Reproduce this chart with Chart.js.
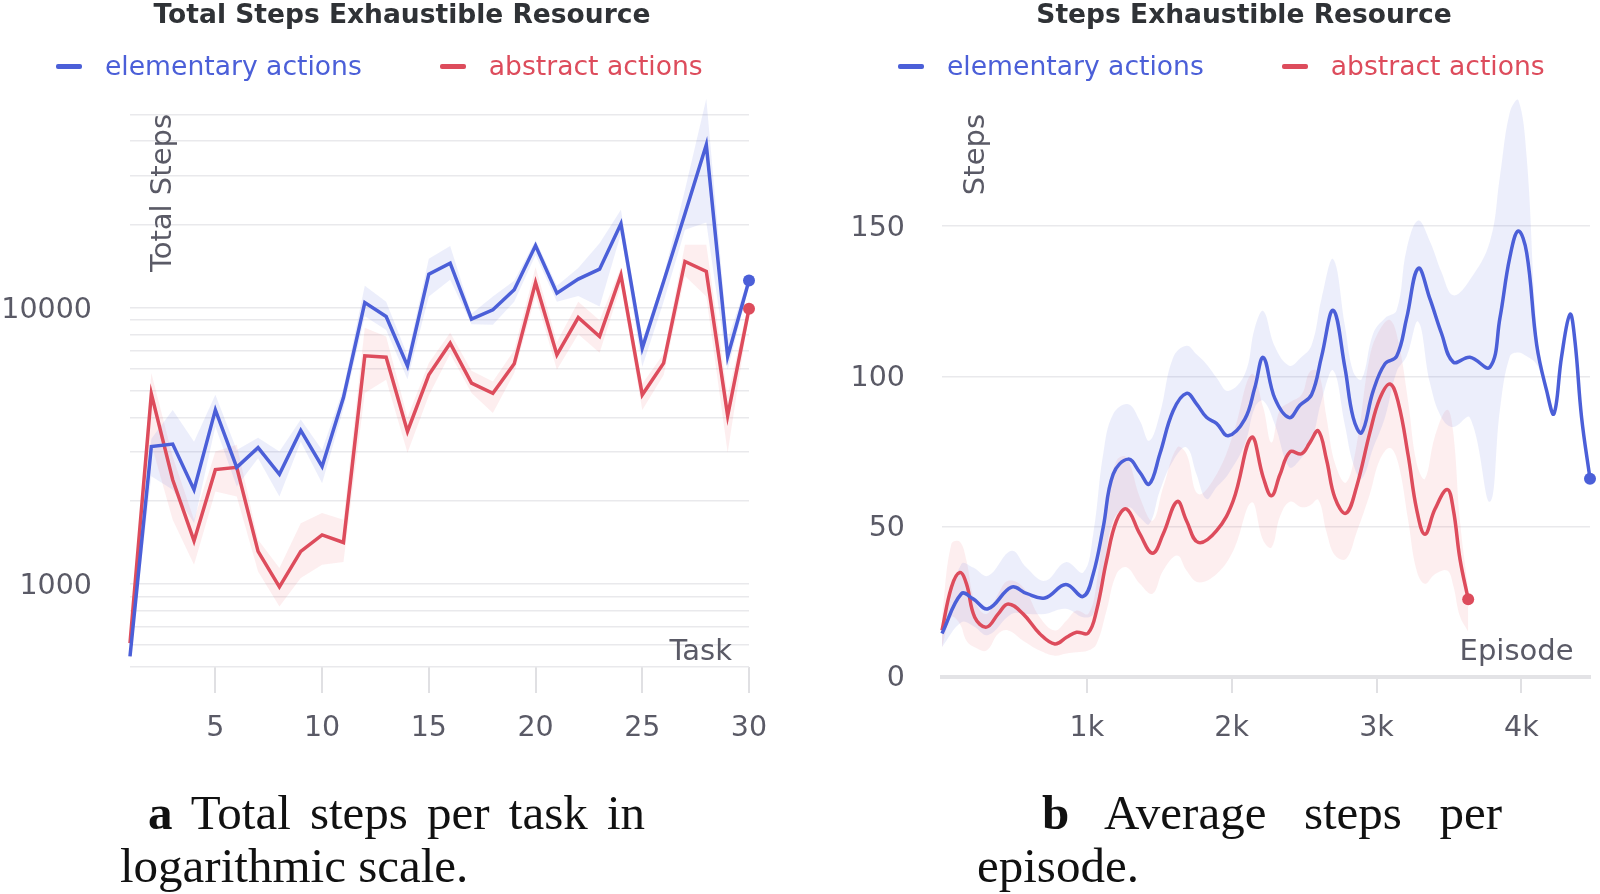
<!DOCTYPE html>
<html>
<head>
<meta charset="utf-8">
<script src="https://cdn.jsdelivr.net/npm/chart.js@4.4.1/dist/chart.umd.min.js"></script>
<style>
  body { margin: 0; background: #fff; }
  #page { position: relative; width: 1600px; height: 894px; overflow: hidden; background: #fff; }
  canvas { position: absolute; top: 0; }
  .title { position: absolute; top: -1px; width: 800px; text-align: center; font-family: 'DejaVu Sans'; font-weight: bold; font-size: 26.5px; line-height: 30px; color: #2f3236; white-space: nowrap; }
  .legend { position: absolute; top: 51px; display: flex; align-items: center; font-family: 'DejaVu Sans'; font-size: 26.6px; line-height: 30px; white-space: nowrap; }
  .legend .item { display: flex; align-items: center; margin-right: 78px; }
  .legend .dash { width: 26px; height: 5px; border-radius: 2px; margin-right: 23px; }
  .caption { position: absolute; font-family: 'Liberation Serif'; font-size: 49px; line-height: 53px; color: #111; white-space: nowrap; }
  .just { text-align: justify; text-align-last: justify; white-space: normal; }
</style>
</head>
<body>
<div id="page">
  <canvas id="totalChart" width="800" height="760" style="left:0"></canvas>
  <canvas id="stepsChart" width="800" height="760" style="left:800px"></canvas>

  <div class="title" style="left:2px">Total Steps Exhaustible Resource</div>
  <div class="title" style="left:844px">Steps Exhaustible Resource</div>

  <div class="caption just" style="left:148px; top:786px; width:497px"><b>a</b> Total steps per task in</div>
  <div class="caption" style="left:120px; top:839px">logarithmic scale.</div>
  <div class="caption just" style="left:1042px; top:786px; width:460px"><b>b</b> Average steps per</div>
  <div class="caption" style="left:977px; top:839px">episode.</div>
</div>

<script>
// ---- left chart: total steps per task (log scale) ----
const tasks = [1, 2, 3, 4, 5, 6, 7, 8, 9, 10, 11, 12, 13, 14, 15, 16, 17, 18, 19, 20, 21, 22, 23, 24, 25, 26, 27, 28, 29, 30];
const elemTotal = [546, 3140, 3205, 2190, 4260, 2640, 3110, 2490, 3590, 2660, 4720, 10420, 9280, 6150, 13210, 14480, 9080, 9810, 11590, 16760, 11270, 12670, 13770, 20090, 7130, 12420, 21840, 38810, 6650, 12520];
const elemTotalHi = [565, 3350, 4260, 3270, 4830, 3050, 3380, 3010, 3930, 3050, 5100, 12000, 10500, 6700, 15000, 16700, 9500, 10960, 12500, 17500, 12000, 13900, 17100, 22600, 7600, 13000, 26700, 57000, 7640, 13000];
const elemTotalLo = [530, 2450, 2190, 1660, 3710, 2250, 2850, 2070, 3270, 2310, 4300, 9300, 8300, 5500, 10960, 12600, 8700, 8660, 10500, 15500, 10500, 11000, 10080, 18500, 6100, 10500, 19100, 20300, 5950, 12000];
const absTotal = [610, 4870, 2380, 1430, 2590, 2640, 1310, 975, 1310, 1504, 1411, 6690, 6610, 3560, 5705, 7430, 5325, 4895, 6254, 12310, 6745, 9200, 7850, 13130, 4830, 6290, 14680, 13500, 4056, 9890];
const absTotalHi = [640, 5800, 2890, 1705, 3010, 3185, 1443, 1140, 1658, 1803, 1705, 8440, 7850, 4000, 6300, 8100, 5900, 5400, 7000, 14000, 7500, 10500, 9000, 14000, 5300, 6800, 16870, 16870, 4800, 10500];
const absTotalLo = [590, 3200, 1705, 1172, 2159, 2070, 1109, 828, 1049, 1172, 1200, 4910, 5480, 2980, 4800, 6800, 4900, 4150, 5800, 11000, 5950, 8000, 6860, 12000, 4260, 5700, 13000, 10960, 2980, 9500];
const totalTicks = [500, 600, 700, 800, 900, 1000, 2000, 3000, 4000, 5000, 6000, 7000, 8000, 9000, 10000, 20000, 30000, 40000, 50000];
const totalLabels = [1000, 10000];
const taskTicks = [5, 10, 15, 20, 25, 30];

// ---- right chart: average steps per episode ----
const elemEpisodes = [0, 134, 215, 318, 480, 583, 710, 855, 975, 1044, 1113, 1182, 1286, 1366, 1431, 1504, 1596, 1688, 1757, 1826, 1895, 1976, 2091, 2160, 2218, 2298, 2397, 2471, 2552, 2621, 2701, 2782, 2839, 2897, 2977, 3058, 3139, 3208, 3288, 3369, 3449, 3530, 3645, 3783, 3852, 3921, 3979, 4037, 4106, 4175, 4225, 4278, 4336, 4370, 4416, 4474];
const elemSteps = [14.5, 27.7, 26, 22.7, 29.9, 27.8, 26.3, 30.8, 26.8, 34.3, 49.8, 67.5, 72.5, 68.1, 64.2, 74.2, 88.6, 94.4, 90.9, 86.4, 84.4, 80.3, 85.8, 96.3, 106.3, 92.7, 86.3, 90.4, 94.0, 106.7, 122.0, 102.9, 86.3, 81.3, 95.2, 104.2, 106.7, 119.4, 136.0, 125.8, 114.3, 104.8, 106.4, 103.1, 119.4, 139.8, 148.4, 141.1, 110.5, 95.2, 87.6, 106.7, 120.7, 111.8, 86.3, 66.0];
const elemStepsHi = [18, 37.6, 36.4, 33.7, 42, 36.4, 32, 38.2, 34.8, 47.6, 74.2, 87.5, 90.8, 85.3, 78.6, 87.5, 106.3, 110.2, 107.4, 104.1, 99.7, 95.2, 100.8, 116.3, 121.8, 110, 103.6, 106, 110.5, 126, 139, 116.9, 101.6, 99.1, 114.3, 119.4, 122, 142.3, 151.9, 144.9, 134.7, 127, 132.2, 144.9, 166.5, 188, 192, 172.9, 116, 95.2, 87.6, 106.7, 120.7, 111.8, 86.3, 66];
const elemStepsLo = [10, 18.2, 17, 14, 21, 21, 21, 22.7, 19.9, 21, 34.3, 52, 56.5, 53.1, 50.9, 62, 72, 76.4, 67.5, 59.2, 63.1, 67.5, 77.5, 89.7, 91.9, 84, 69.8, 72.3, 78.7, 92, 102, 83.8, 71, 66, 76.2, 86.3, 101.6, 106.7, 118.2, 97.8, 86.3, 83.2, 86.3, 58.3, 88.9, 106.7, 108, 106.7, 104, 95.2, 87.6, 106.7, 120.7, 111.8, 86.3, 66];
const absEpisodes = [0, 65, 123, 169, 226, 307, 388, 457, 560, 675, 779, 860, 929, 1009, 1067, 1136, 1205, 1274, 1366, 1454, 1527, 1624, 1688, 1769, 1896, 2011, 2137, 2218, 2275, 2333, 2402, 2483, 2540, 2598, 2655, 2713, 2789, 2863, 2954, 3023, 3093, 3150, 3219, 3277, 3334, 3403, 3488, 3530, 3576, 3633];
const absSteps = [15.5, 29.9, 34.8, 31, 19.9, 16.6, 21, 24.3, 21, 14.4, 11, 13.2, 14.9, 14.6, 22.1, 38.7, 52, 55.9, 47.6, 41.2, 47.6, 58.4, 52, 44.8, 48.7, 58.7, 79.7, 66.4, 60.3, 67.3, 74.9, 74.3, 78, 81.9, 72.3, 59.6, 54.5, 63.4, 81.3, 92.7, 97.5, 91.4, 73.6, 55.8, 47.5, 55.8, 62.4, 55.8, 39.3, 25.9];
const absStepsHi = [20, 44.3, 45, 38.7, 25.4, 21, 27.7, 32, 29.9, 19.9, 15.5, 18.8, 22.1, 21, 31, 58.7, 72, 73.1, 59.8, 52, 63.1, 76.4, 74.2, 60.9, 67.5, 80.9, 100.8, 89.7, 78, 88.9, 91.4, 94, 101.6, 101.6, 86.3, 71.1, 64.7, 77.4, 106.7, 115.6, 118.8, 111.8, 91.4, 71.1, 66, 80, 88.9, 81.3, 52, 29.1];
const absStepsLo = [10, 19.9, 17.7, 12.1, 9.9, 8.8, 14.4, 15.5, 12.1, 8.8, 7.1, 7.8, 8.2, 8.8, 11, 22.1, 34.3, 36.5, 31, 27.7, 35.4, 40.4, 35.4, 31.5, 34.3, 42, 58.1, 45.4, 43.1, 53.3, 58.3, 56.5, 57.1, 59, 48.2, 40.5, 39.3, 48.2, 60.9, 72.3, 76.2, 71.1, 52, 35.4, 31, 34.2, 35.4, 30.4, 20.2, 15.1];
const stepTicks = [0, 50, 100, 150];
const episodeTicks = [1000, 2000, 3000, 4000];

const BLUE = '#4b5fd8';
const RED = '#dd4c5c';
const BLUE_BAND = 'rgba(98, 112, 226, 0.12)';
const RED_BAND = 'rgba(236, 96, 106, 0.11)';
const TEXT = '#5a5a66';
const GRID = '#e9e9ec';
const FONT = 'DejaVu Sans';

Chart.defaults.font.family = FONT;
Chart.defaults.animation = false;

const pts = (xs, ys) => xs.map((x, i) => ({ x: x, y: ys[i] }));

function series(label, color, band, xs, mid, hi, lo, tension) {
  const last = xs.length - 1;
  return [
    {
      label: label, data: pts(xs, mid), borderColor: color, backgroundColor: color,
      borderWidth: 3.5, tension: tension, fill: false, order: 0, clip: false,
      pointRadius: (c) => (c.dataIndex === last ? 6 : 0), pointBorderWidth: 0, pointHoverRadius: 0,
    },
    { label: label + ' hi', band: true, data: pts(xs, hi), borderWidth: 0, pointRadius: 0, backgroundColor: band, fill: '+1', tension: tension, order: 1 },
    { label: label + ' lo', band: true, data: pts(xs, lo), borderWidth: 0, pointRadius: 0, fill: false, tension: tension, order: 1 },
  ];
}

// axis titles sit inside the plot, plotly style
const axisNames = {
  id: 'axisNames',
  beforeDatasetsDraw(chart, args, o) {
    const { ctx, chartArea: a } = chart;
    ctx.save();
    ctx.fillStyle = TEXT;
    ctx.font = '29px "DejaVu Sans"';
    ctx.textBaseline = 'middle';
    ctx.textAlign = 'right';
    ctx.fillText(o.x, a.right - o.xInset, a.bottom - o.xRaise);
    ctx.translate(a.left + o.yInset, a.top + o.yDrop);
    ctx.rotate(-Math.PI / 2);
    ctx.fillText(o.y, 0, 0);
    ctx.restore();
  },
};

function htmlLegend(chart, left) {
  const box = document.createElement('div');
  box.className = 'legend';
  box.style.left = left + 'px';
  chart.data.datasets.filter((d) => !d.band).forEach((d) => {
    const item = document.createElement('div');
    item.className = 'item';
    const dash = document.createElement('span');
    dash.className = 'dash';
    dash.style.background = d.borderColor;
    const txt = document.createElement('span');
    txt.textContent = d.label;
    txt.style.color = d.borderColor;
    item.appendChild(dash);
    item.appendChild(txt);
    box.appendChild(item);
  });
  document.getElementById('page').appendChild(box);
}

const tickFont = { size: 28.5, family: FONT };

const totalChart = new Chart(document.getElementById('totalChart'), {
  type: 'line',
  data: {
    datasets: [
      ...series('elementary actions', BLUE, BLUE_BAND, tasks, elemTotal, elemTotalHi, elemTotalLo, 0),
      ...series('abstract actions', RED, RED_BAND, tasks, absTotal, absTotalHi, absTotalLo, 0),
    ],
  },
  options: {
    responsive: false,
    layout: { padding: { left: 0, right: 51, top: 97, bottom: 13 } },
    plugins: {
      legend: { display: false },
      tooltip: { enabled: false },
      title: { display: false },
      axisNames: { x: 'Task', y: 'Total Steps', xInset: 17, xRaise: 15, yInset: 33, yDrop: 17 },
    },
    scales: {
      x: {
        type: 'linear', min: 1, max: 30,
        afterBuildTicks: (s) => { s.ticks = taskTicks.map((v) => ({ value: v })); },
        afterFit: (s) => { s.height = 80; },
        grid: { drawOnChartArea: false, drawTicks: true, tickLength: 26, color: '#e0e0e3', lineWidth: 2 },
        border: { display: false },
        ticks: { font: tickFont, color: TEXT, padding: 18, autoSkip: false, maxRotation: 0 },
      },
      y: {
        type: 'logarithmic', min: 500, max: 57800,
        afterBuildTicks: (s) => { s.ticks = totalTicks.map((v) => ({ value: v })); },
        afterFit: (s) => { s.width = 130; },
        grid: { color: GRID, lineWidth: 1.5, drawTicks: false },
        border: { display: false },
        ticks: {
          font: tickFont, color: TEXT, padding: 38, autoSkip: false, labelOffset: 3,
          callback: (v) => (totalLabels.includes(v) ? String(v) : ''),
        },
      },
    },
  },
  plugins: [axisNames],
});

const stepsChart = new Chart(document.getElementById('stepsChart'), {
  type: 'line',
  data: {
    datasets: [
      ...series('elementary actions', BLUE, BLUE_BAND, elemEpisodes, elemSteps, elemStepsHi, elemStepsLo, 0.4),
      ...series('abstract actions', RED, RED_BAND, absEpisodes, absSteps, absStepsHi, absStepsLo, 0.4),
    ],
  },
  options: {
    responsive: false,
    layout: { padding: { left: 0, right: 10, top: 97, bottom: 13 } },
    plugins: {
      legend: { display: false },
      tooltip: { enabled: false },
      title: { display: false },
      axisNames: { x: 'Episode', y: 'Steps', xInset: 16.5, xRaise: 25, yInset: 34.5, yDrop: 17 },
    },
    scales: {
      x: {
        type: 'linear', min: 0, max: 4474,
        afterBuildTicks: (s) => { s.ticks = episodeTicks.map((v) => ({ value: v })); },
        afterFit: (s) => { s.height = 70; },
        grid: { drawOnChartArea: false, drawTicks: true, tickLength: 16, color: '#e0e0e3', lineWidth: 2 },
        border: { display: true, color: '#e3e3e6', width: 4 },
        ticks: { font: tickFont, color: TEXT, padding: 18, autoSkip: false, maxRotation: 0, callback: (v) => v / 1000 + 'k' },
      },
      y: {
        type: 'linear', min: 0, max: 193,
        afterBuildTicks: (s) => { s.ticks = stepTicks.map((v) => ({ value: v })); },
        afterFit: (s) => { s.width = 142; },
        grid: { color: GRID, lineWidth: 1.5, drawTicks: false },
        border: { display: false },
        ticks: { font: tickFont, color: TEXT, padding: 37, autoSkip: false, labelOffset: 2 },
      },
    },
  },
  plugins: [axisNames],
});

htmlLegend(totalChart, 56);
htmlLegend(stepsChart, 898);
</script>
</body>
</html>
